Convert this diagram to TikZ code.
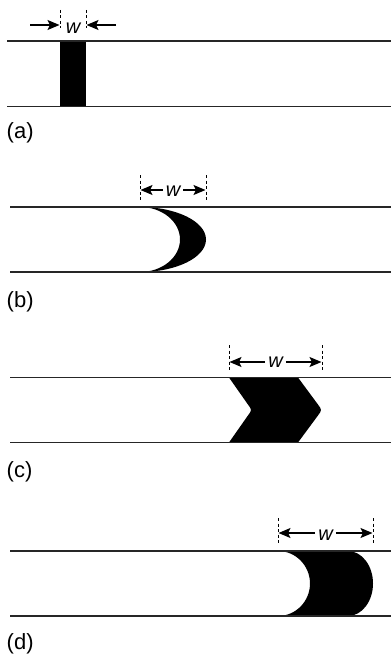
\documentclass[tikz,border=0pt]{standalone}
\usepackage{fontspec}
\setmainfont{Liberation Sans}
\usetikzlibrary{arrows.meta}
\begin{document}
\begin{tikzpicture}[x=1pt,y=-1pt,
  strip/.style={line width=1.4pt, black!85},
  dimline/.style={line width=0.8pt, dash pattern=on 3pt off 2.5pt},
  dimarrow/.style={line width=1.3pt, -{Stealth[length=12pt,width=10pt,inset=2.5pt]}},
  wlabel/.style={font=\fontsize{20}{22}\selectfont\itshape, inner sep=3pt},
  panel/.style={font=\fontsize{22}{24}\selectfont, inner sep=0pt, anchor=west},
  blob/.style={fill=black, draw=none}]
\useasboundingbox (0,0) rectangle (391,658);

% ---------- (a)
\fill[blob] (60,41) rectangle (86,106.5);
\draw[strip] (7,41) -- (391,41);
\draw[strip] (7,106.5) -- (391,106.5);
\draw[dimline] (60,10) -- (60,28);
\draw[dimline] (86,10) -- (86,28);
\node[wlabel] (wa) at (73,28) {w};
\coordinate (al0) at (30,25); \coordinate (al1) at (59.5,25);
\coordinate (ar0) at (116,25); \coordinate (ar1) at (86.5,25);
\draw[dimarrow] (al0) -- (al1);
\draw[dimarrow] (ar0) -- (ar1);
\node[panel] (la) at (6.5,133) {(a)};

% ---------- (b)
\fill[blob] (140,207) .. controls (176.4,207) and (206,221.6) .. (206,239.5)
  .. controls (206,257.4) and (176.4,272) .. (140,272)
  .. controls (162.1,272) and (180,257.4) .. (180,239.5)
  .. controls (180,221.6) and (162.1,207) .. (140,207) -- cycle;
\draw[strip] (10,207) -- (391,207);
\draw[strip] (10,272) -- (391,272);
\draw[dimline] (140,175) -- (140,202);
\draw[dimline] (206,175) -- (206,202);
\node[wlabel] (wb) at (173,191) {w};
\coordinate (bl) at (140.5,190); \coordinate (br) at (205.5,190);
\draw[dimarrow] (wb.west |- bl) -- (bl);
\draw[dimarrow] (wb.east |- br) -- (br);
\node[panel] (lb) at (6.5,302) {(b)};

% ---------- (c)
\fill[blob] (229,377.5) -- (298,377.5) -- (317.8,404.3) .. controls (322,410) .. (317.8,415.7)
  -- (298,442.5) -- (229,442.5) -- (247.8,415.7) .. controls (252,410) .. (247.8,404.3) -- cycle;
\draw[strip] (10,377.5) -- (391,377.5);
\draw[strip] (10,442.5) -- (391,442.5);
\draw[dimline] (229,345) -- (229,372);
\draw[dimline] (322,345) -- (322,372);
\node[wlabel] (wc) at (275.5,362) {w};
\coordinate (cl) at (229.5,362); \coordinate (cr) at (321.5,362);
\draw[dimarrow] (wc.west |- cl) -- (cl);
\draw[dimarrow] (wc.east |- cr) -- (cr);
\node[panel] (lc) at (6.5,472) {(c)};

% ---------- (d)
\fill[blob] (278,551) -- (348,551)
  .. controls (361.8,551) and (373,565.6) .. (373,583.5)
  .. controls (373,601.4) and (361.8,616) .. (348,616)
  -- (278,616)
  .. controls (295.7,616) and (310,601.4) .. (310,583.5)
  .. controls (310,565.6) and (295.7,551) .. (278,551) -- cycle;
\draw[strip] (10,551) -- (391,551);
\draw[strip] (10,616) -- (391,616);
\draw[dimline] (278,518) -- (278,545);
\draw[dimline] (373,518) -- (373,545);
\node[wlabel] (wd) at (325.5,535) {w};
\coordinate (dl) at (278.5,533); \coordinate (dr) at (372.5,533);
\draw[dimarrow] (wd.west |- dl) -- (dl);
\draw[dimarrow] (wd.east |- dr) -- (dr);
\node[panel] (ld) at (6.5,644) {(d)};
\end{tikzpicture}
\end{document}
